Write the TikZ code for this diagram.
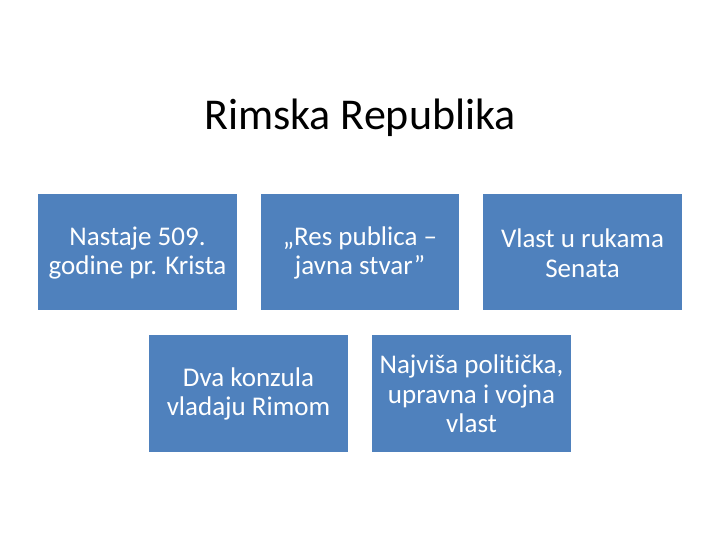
\documentclass[tikz,border=0pt]{standalone}
\usepackage{fontspec}
\setmainfont[Ligatures={NoCommon}]{Carlito}
\definecolor{boxblue}{HTML}{4F81BD}
\begin{document}
\begin{tikzpicture}[x=1pt,y=-1pt,
  blk/.style={fill=boxblue,draw=none,text=white,align=center,inner sep=0pt,font=\fontsize{27}{29.5}\selectfont},
  ttl/.style={font=\fontsize{44}{50}\selectfont,text=black}]
\useasboundingbox (0,0) rectangle (720,540);
\node[ttl] (title) at (360,118) {Rimska Republika};
\path[fill=boxblue] (38,194) rectangle (237,310);
\node[blk] (b1) at (137.5,253) {Nastaje 509.\\godine pr. Krista};
\path[fill=boxblue] (261,194) rectangle (459,310);
\node[blk] (b2) at (360,253) {„Res publica –\\javna stvar”};
\path[fill=boxblue] (483,194) rectangle (682,310);
\node[blk] (b3) at (582.5,253) {Vlast u rukama\\Senata};
\path[fill=boxblue] (149,335) rectangle (348,452);
\node[blk] (b4) at (248.5,394) {Dva konzula\\vladaju Rimom};
\path[fill=boxblue] (372,335) rectangle (571,452);
\node[blk] (b5) at (471.5,394) {Najviša politička,\\upravna i vojna\\vlast};
\end{tikzpicture}
\end{document}
